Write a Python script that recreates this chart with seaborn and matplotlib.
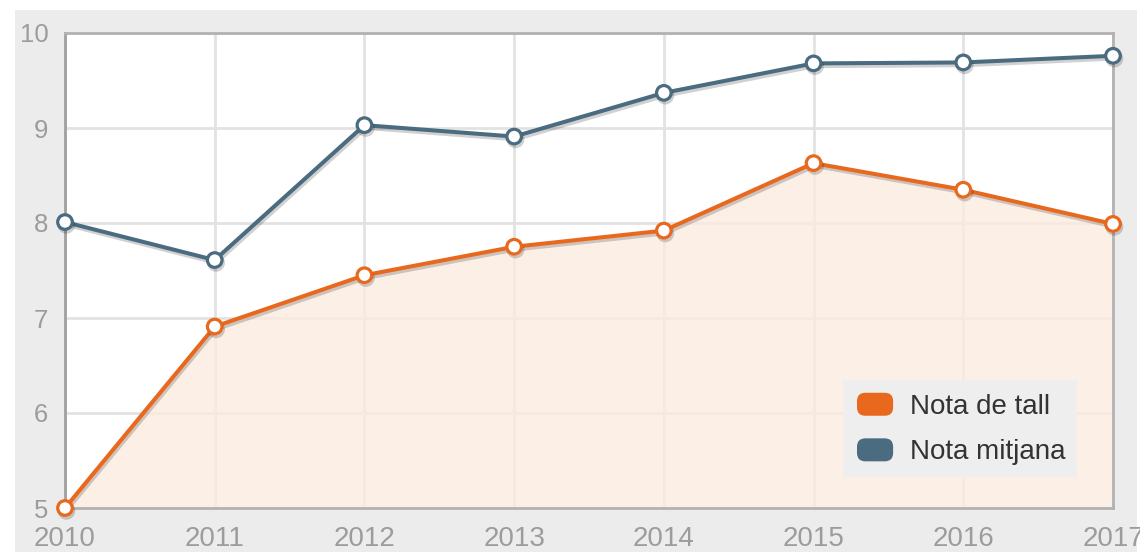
import matplotlib
matplotlib.use("Agg")
import matplotlib.pyplot as plt
import seaborn as sns
import numpy as np
from matplotlib.patches import Rectangle, FancyBboxPatch, Patch
from matplotlib.legend_handler import HandlerPatch
import matplotlib.patheffects as pe

years = [2010, 2011, 2012, 2013, 2014, 2015, 2016, 2017]
nota_tall = [5.0, 6.91, 7.45, 7.75, 7.92, 8.63, 8.35, 7.99]
nota_mitjana = [8.01, 7.61, 9.03, 8.91, 9.37, 9.68, 9.69, 9.76]
series_labels = ["Nota de tall", "Nota mitjana"]
y_ticks = [5, 6, 7, 8, 9, 10]

c_tall = "#e8691e"
c_mit = "#4a6b80"
c_fill = "#fbebe0"
c_tick = "#9c9c9c"

sns.set_theme(style="white")
plt.rcParams["font.family"] = ["Liberation Sans", "DejaVu Sans"]

fig = plt.figure(figsize=(11.4, 5.52), dpi=100)
fig.patch.set_facecolor("white")
bg = Rectangle((15 / 1140, 0), (1137 - 15) / 1140, (552 - 10) / 552,
               transform=fig.transFigure, facecolor="#ececec",
               edgecolor="none", zorder=-10)
fig.patches.append(bg)
ax = fig.add_axes([65 / 1140, (552 - 508) / 552, (1113 - 65) / 1140, (508 - 33) / 552])
ax.set_zorder(1)
ax.set_facecolor("white")

ax.fill_between(years, nota_tall, 5, color=c_fill, alpha=0.8, zorder=2, linewidth=0)

shadow = [pe.SimpleLineShadow(offset=(1, -2), alpha=0.18, shadow_color="black"), pe.Normal()]
for vals, col in [(nota_tall, c_tall), (nota_mitjana, c_mit)]:
    sns.lineplot(x=years, y=vals, ax=ax, color=col, linewidth=2.9, marker="o",
                 markersize=10.5, markerfacecolor="white", markeredgecolor=col,
                 markeredgewidth=2.3, clip_on=False, zorder=4, path_effects=shadow)

ax.set_xlim(2010, 2017)
ax.set_ylim(5, 10)
ax.set_xticks(years)
ax.set_yticks(y_ticks)
ax.set_xticklabels([str(y) for y in years])
ax.grid(True, color="#e2e2e2", linewidth=2)
ax.set_axisbelow(True)
for s in ax.spines.values():
    s.set_visible(True)
    s.set_color("#b2b2b2")
    s.set_linewidth(2)
ax.spines["left"].set_color("#a0a0a0")
ax.tick_params(axis="x", length=0, pad=13, labelsize=20, labelcolor=c_tick)
ax.tick_params(axis="y", length=0, pad=12, labelsize=18.5, labelcolor=c_tick)
ax.set_xlabel("")
ax.set_ylabel("")


class RoundHandler(HandlerPatch):
    def create_artists(self, legend, orig_handle, xdescent, ydescent, width, height, fontsize, trans):
        p = FancyBboxPatch((-xdescent + 2, -ydescent + 1), width - 4, height - 2,
                           boxstyle="round,pad=0,rounding_size=6",
                           facecolor=orig_handle.get_facecolor(), edgecolor="none",
                           transform=trans)
        return [p]


handles = [Patch(facecolor=c_tall, label=series_labels[0]),
           Patch(facecolor=c_mit, label=series_labels[1])]
leg = ax.legend(handles=handles, loc="lower right", bbox_to_anchor=(0.9656, 0.0653),
                borderaxespad=0, fontsize=20, frameon=True, facecolor="#eeeeee",
                edgecolor="none", framealpha=1, fancybox=False, handlelength=1.5,
                handleheight=1.05, handletextpad=0.5, labelspacing=0.62, borderpad=0.42,
                handler_map={Patch: RoundHandler()})
for t in leg.get_texts():
    t.set_color("#333333")
leg.set_zorder(6)

fig.savefig("out.png", dpi=100)
